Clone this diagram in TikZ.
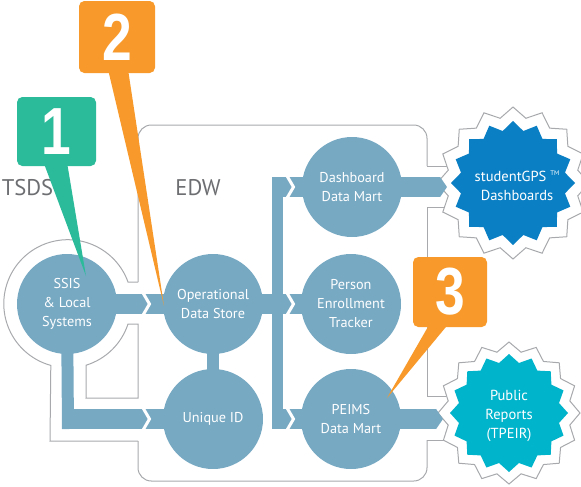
\documentclass[tikz,border=0pt]{standalone}
\usepackage{fontspec}
\usepackage{graphicx}
\setmainfont{PT Sans}
\newfontfamily\numfont{Liberation Sans}
\usetikzlibrary{calc,arrows.meta}
\definecolor{nodeblue}{HTML}{77A9C3}
\definecolor{calgreen}{HTML}{2CBB9A}
\definecolor{calorange}{HTML}{F79A2B}
\definecolor{gpsblue}{HTML}{0B7FC4}
\definecolor{tpeircyan}{HTML}{00B4CC}
\definecolor{framegray}{HTML}{A7A9AC}
\definecolor{labelgray}{HTML}{6D6E71}
\pgfdeclarelayer{bg}
\pgfsetlayers{bg,main}
\begin{document}
\begin{tikzpicture}[x=0.75pt,y=-0.75pt,
  circ/.style={circle,fill=nodeblue,minimum size=75pt,inner sep=0pt,text=white,align=center,font=\fontsize{10.7}{14.25}\selectfont},
  startext/.style={text=white,align=center,font=\fontsize{10.9}{14.25}\selectfont},
  band/.style={draw=nodeblue,line width=15pt},
  vbar/.style={draw=nodeblue,line width=8.5pt},
  chev/.style={draw=white,line width=2.25pt,miter limit=10},
  frame/.style={draw=framegray,line width=0.75pt},
  framern/.style={frame,rounded corners=10pt},
  outerstar/.style={fill=white,draw=framegray,line width=0.75pt},
  lbl/.style={text=labelgray,font=\fontsize{17}{20}\selectfont},
  callbox/.style={rounded corners=4pt,inner sep=0pt,text=white,font=\numfont\bfseries\fontsize{50}{50}\selectfont},
  pics/chevron/.style={code={\draw[chev] (-3.5,-12) -- (3.5,0) -- (-3.5,12);}}
]
\useasboundingbox (0,0) rectangle (581,486);

% main nodes
\node[circ] (ssis) at (67,304) {SSIS\\\& Local\\Systems};
\node[circ] (ods) at (213,304) {Operational\\Data Store};
\node[circ] (uid) at (213,419) {Unique ID};
\node[circ] (dash) at (352,187) {Dashboard\\Data Mart};
\node[circ] (pet) at (351,304) {Person\\Enrollment\\Tracker};
\node[circ] (peims) at (351,419) {PEIMS\\Data Mart};

\node[lbl] (tsds) at (27.5,187.5) {TSDS};
\node[lbl] (edw) at (198,187.5) {EDW};

% star centers and helper coordinates
\coordinate (gpsc) at (513,183);
\coordinate (tpc) at (509,413);
\coordinate (gpsin) at (447,187);
\coordinate (tpin) at (443,419);
\coordinate (lcorner) at (68,429);
\coordinate (lstart) at (62,419);
\coordinate (bustop) at (277.5,177);
\coordinate (busbot) at (277.5,429);
\coordinate (bus1) at (272,187);
\coordinate (bus3) at (272,419);

\begin{pgfonlayer}{bg}
  % TSDS / EDW outline
  \draw[framern] (427,166) -- (427,125) -- (138,125) -- (138,282);
  \draw[frame] (470,166) -- (427,166);
  \draw[frame] (138,282) -- (128,282) arc[start angle=-19.83, end angle=-254.6, radius=64] -- (50,441) -- (138,441);
  \draw[framern] (138,441) -- (138,481) -- (427,481) -- (427,440);
  \draw[frame] (427,440) -- (470,440);
  \draw[frame] (470,207) -- (427,207) -- (427,396) -- (470,396);
  \draw[frame] (138,324) -- (128,324) arc[start angle=18.15, end angle=72.7, radius=64] -- (86,398) -- (138,398) -- cycle;
  % outer star outlines
  \path[outerstar, shift={(gpsc)}] plot[samples at={0,...,31}] ({90+\x*11.25}:{76-10*mod(\x,2)}) -- cycle;
  \path[outerstar, shift={(tpc)}] plot[samples at={0,...,31}] ({90+\x*11.25}:{71-9*mod(\x,2)}) -- cycle;
  % connectors
  \draw[band] (ssis.center) -- (ods.center);
  \draw[vbar, line width=9pt] (ssis.center) -- (lcorner);
  \draw[band] (lstart) -- (uid.center);
  \draw[vbar] (ods.center) -- (uid.center);
  \draw[band] (ods.center) -- (pet.center);
  \draw[vbar] (bustop) -- (busbot);
  \draw[band] (bus1) -- (dash.center);
  \draw[band] (bus3) -- (peims.center);
  \draw[band,-{Triangle[length=5.25pt,width=0pt 1]}] (dash.center) -- (gpsin);
  \draw[band,-{Triangle[length=5.25pt,width=0pt 1]}] (peims.center) -- (tpin);
  % chevron cuts
  \pic at (146,304) {chevron};
  \pic at (146,419) {chevron};
  \pic at (290,187) {chevron};
  \pic at (290,304) {chevron};
  \pic at (290,419) {chevron};
\end{pgfonlayer}

% inner stars
\fill[gpsblue, shift={(gpsc)}] plot[samples at={0,...,31}] ({90+\x*11.25}:{62-9*mod(\x,2)}) -- cycle;
\fill[tpeircyan, shift={(tpc)}] plot[samples at={0,...,31}] ({90+\x*11.25}:{59-8*mod(\x,2)}) -- cycle;
\node[startext] (gps) at (517,186) {studentGPS~\raisebox{0.8ex}{\fontsize{5}{5}\selectfont TM}\\Dashboards};
\node[startext] (tpeir) at (509,416) {Public\\Reports\\(TPEIR)};

% callouts
\node[callbox, fill=calgreen, minimum width=59.25pt, minimum height=51.75pt] (c1) at (56.5,131.5) {\scalebox{0.8}[1]{1}};
\coordinate (tip1) at (86,276);
\fill[calgreen] ($(c1.south)+(-13,-4)$) -- ($(c1.south)+(10.5,-4)$) -- (tip1) -- cycle;

\node[callbox, fill=calorange, minimum width=57pt, minimum height=54pt] (c2) at (117,37) {\scalebox{0.8}[1]{2}};
\coordinate (tip2) at (164,306);
\fill[calorange] ($(c2.south)+(-9,-4)$) -- ($(c2.south)+(11,-4)$) -- (tip2) -- cycle;

\node[callbox, fill=calorange, minimum width=55.5pt, minimum height=52.5pt] (c3) at (450,292) {\scalebox{0.8}[1]{3}};
\coordinate (tip3) at (387,398);
\fill[calorange] ($(c3.south)+(-20,-4)$) -- ($(c3.south)+(-1,-4)$) -- (tip3) -- cycle;
\end{tikzpicture}
\end{document}
